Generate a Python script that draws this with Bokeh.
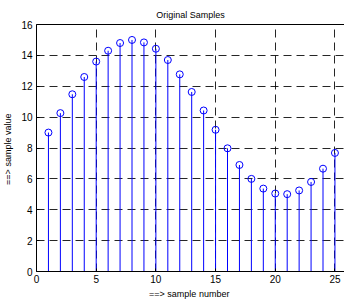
from bokeh.plotting import figure
from bokeh.models import Range1d, FixedTicker, LinearAxis
from bokeh.embed import file_html
from bokeh.resources import INLINE

sample_number = list(range(1, 26))
sample_value = [9.0, 10.26, 11.48, 12.6, 13.6, 14.3, 14.8, 15.0, 14.84, 14.43,
                13.7, 12.77, 11.63, 10.43, 9.18, 7.98, 6.9, 6.0, 5.37, 5.05,
                5.01, 5.25, 5.8, 6.66, 7.68]
x_ticks = [0, 5, 10, 15, 20, 25]
y_ticks = [0, 2, 4, 6, 8, 10, 12, 14, 16]

FONT = "Liberation Sans"

p = figure(width=344, height=301, output_backend="svg", toolbar_location=None,
           x_range=Range1d(0, 25.8), y_range=Range1d(0, 16),
           title="Original Samples",
           min_border_left=31, min_border_right=0, min_border_top=24, min_border_bottom=0)

p.title.align = "center"
p.title.text_font = FONT
p.title.text_font_size = "9px"
p.title.text_font_style = "normal"
p.title.text_color = "black"
p.title.offset = 0
p.title.standoff = 10

p.outline_line_color = None
p.background_fill_color = "white"
p.border_fill_color = "white"

# stems
p.segment(x0=sample_number, y0=[0] * len(sample_number), x1=sample_number, y1=sample_value,
          line_color="#0000ff", line_width=1)
p.scatter(sample_number, sample_value, marker="circle", size=7,
          fill_color=None, line_color="#0000ff", line_width=1)

for ax in (p.xaxis, p.yaxis):
    ax.axis_line_color = "black"
    ax.axis_line_width = 1
    ax.major_tick_out = 0
    ax.major_tick_in = 3
    ax.minor_tick_out = 0
    ax.minor_tick_in = 0
    ax.major_tick_line_color = "black"
    ax.major_label_text_font = FONT
    ax.major_label_text_font_size = "10px"
    ax.major_label_text_color = "black"
    ax.axis_label_text_font = FONT
    ax.axis_label_text_font_size = "9px"
    ax.axis_label_text_font_style = "normal"
    ax.axis_label_text_color = "black"

p.xaxis.ticker = FixedTicker(ticks=x_ticks)
p.yaxis.ticker = FixedTicker(ticks=y_ticks)
p.xaxis.axis_label = "==>  sample number"
p.yaxis.axis_label = "==>  sample value"
p.xaxis.major_label_standoff = 3
p.xaxis.axis_label_standoff = 3
p.yaxis.major_label_standoff = 4
p.yaxis.axis_label_standoff = 5

# top frame line
top = LinearAxis(ticker=FixedTicker(ticks=[]), major_label_text_font_size="0px",
                 axis_line_color="black", major_tick_in=0, major_tick_out=0,
                 minor_tick_in=0, minor_tick_out=0)
p.add_layout(top, "above")

p.xgrid.ticker = FixedTicker(ticks=x_ticks)
p.ygrid.ticker = FixedTicker(ticks=y_ticks)
for g in (p.xgrid, p.ygrid):
    g.grid_line_color = "black"
    g.grid_line_alpha = 0.85
    g.grid_line_dash = "8 5"
    g.grid_line_width = 1

open("out.html", "w").write(file_html(p, INLINE))
